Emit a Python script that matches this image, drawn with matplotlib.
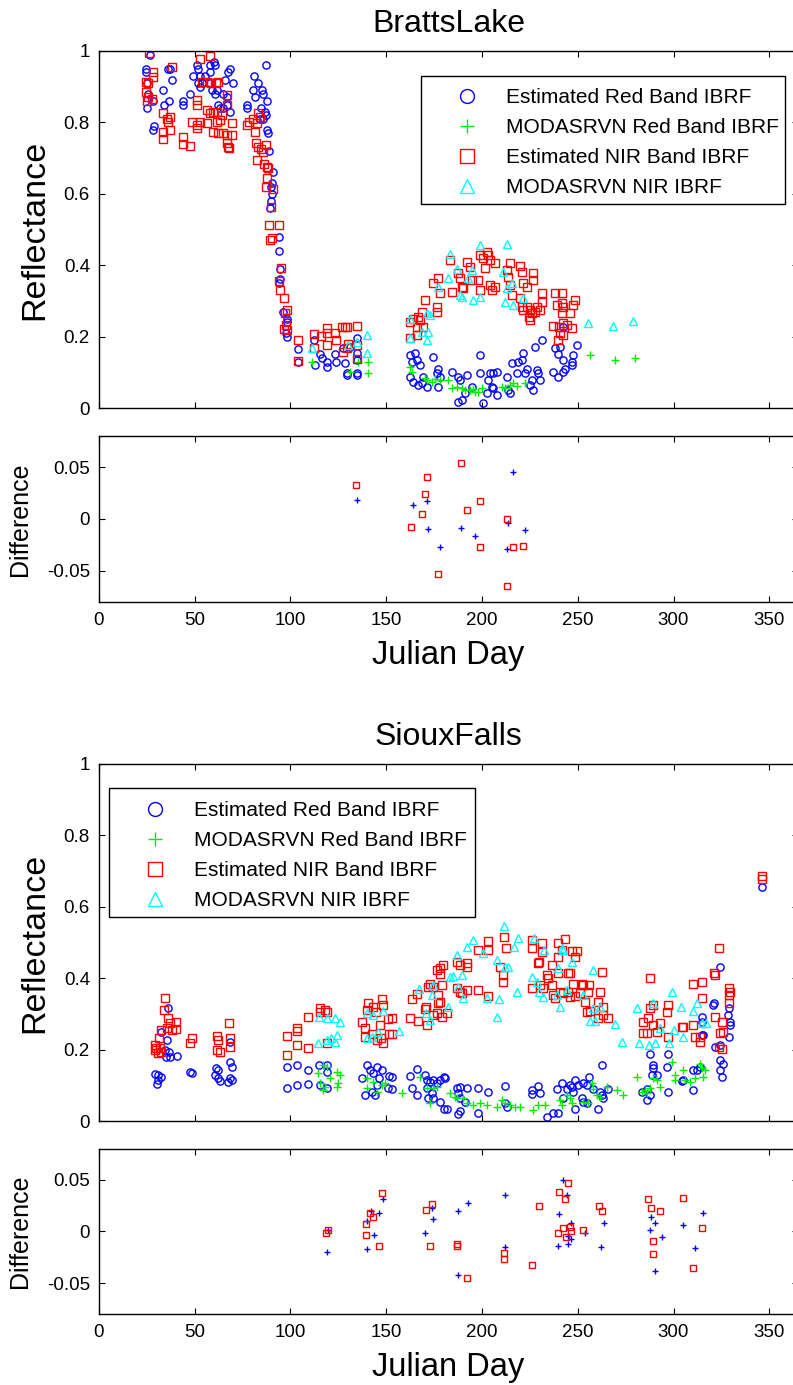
import matplotlib
matplotlib.use('Agg')
import matplotlib.pyplot as plt
from matplotlib.patches import Rectangle
from matplotlib.lines import Line2D

plt.rcParams['font.family'] = ['Liberation Sans', 'DejaVu Sans']

# ---------------- data (day, value) ----------------
bl_est_red = [
    (24.5, 0.95), (24.5, 0.94), (25.2, 0.91), (25.8, 0.88), (25.2, 0.84), (26.6, 0.99), (28.4, 0.86), (28.4, 0.78), (28.7, 0.79),
    (36.2, 0.95), (37.1, 0.95), (37.9, 0.92), (33.6, 0.89), (34.0, 0.85), (36.7, 0.86), (43.7, 0.86), (43.7, 0.85), (47.5, 0.88),
    (48.9, 0.93), (51.0, 0.96), (51.9, 0.95), (52.7, 0.93), (51.9, 0.91), (53.6, 0.91), (52.7, 0.90), (55.4, 0.93), (58.0, 0.96),
    (60.1, 0.97), (60.6, 0.96), (58.0, 0.94), (58.0, 0.91), (58.8, 0.89), (60.6, 0.88), (61.4, 0.89), (62.3, 0.85), (63.2, 0.84),
    (64.9, 0.88), (65.8, 0.92), (67.5, 0.94), (68.4, 0.95), (69.8, 0.91), (68.4, 0.83), (67.0, 0.85), (66.7, 0.87), (64.9, 0.84),
    (77.1, 0.85), (77.5, 0.84), (80.6, 0.89), (81.5, 0.87), (80.9, 0.93), (83.2, 0.91), (84.9, 0.89), (85.8, 0.88), (87.2, 0.96),
    (87.6, 0.86), (84.4, 0.84), (86.7, 0.83), (87.2, 0.82), (84.1, 0.81), (85.8, 0.81), (87.6, 0.78), (88.4, 0.77), (89.0, 0.72),
    (90.7, 0.66), (90.2, 0.63), (89.6, 0.62), (90.2, 0.60), (89.6, 0.58), (89.3, 0.56), (94.2, 0.48), (94.2, 0.44), (94.5, 0.39),
    (94.5, 0.36), (94.2, 0.35), (95.9, 0.27), (98.0, 0.25), (98.3, 0.24), (97.7, 0.21), (98.3, 0.20), (104.0, 0.165), (104.0, 0.13),
    (112.3, 0.19), (112.8, 0.12), (115.4, 0.15), (116.3, 0.14), (118.9, 0.13), (119.2, 0.116), (123.2, 0.15), (123.7, 0.13),
    (127.6, 0.167), (128.5, 0.125), (129.3, 0.097), (129.3, 0.092), (131.1, 0.17), (134.6, 0.195), (134.6, 0.153), (134.6, 0.135),
    (134.6, 0.097), (134.9, 0.092),
    (162.4, 0.148), (165.0, 0.153), (163.3, 0.13), (166.0, 0.135), (167.7, 0.12), (162.4, 0.088), (164.2, 0.074), (166.8, 0.064),
    (169.4, 0.088), (168.5, 0.07), (171.1, 0.06), (174.6, 0.144), (177.2, 0.11), (176.4, 0.097), (178.1, 0.088), (177.2, 0.06),
    (184.2, 0.10), (187.7, 0.088), (188.6, 0.078), (192.0, 0.092), (187.7, 0.018), (189.4, 0.023), (191.2, 0.041), (194.6, 0.06),
    (199.0, 0.148), (199.0, 0.097), (200.7, 0.013), (202.5, 0.041), (203.3, 0.078), (204.2, 0.097), (205.9, 0.097), (207.7, 0.10),
    (205.0, 0.06), (207.7, 0.037), (205.9, 0.055), (212.9, 0.088), (213.8, 0.05), (214.7, 0.041), (215.5, 0.125), (218.1, 0.097),
    (219.0, 0.13), (220.8, 0.135), (221.6, 0.153), (222.5, 0.097), (223.4, 0.11), (225.1, 0.064), (226.0, 0.078), (227.7, 0.17),
    (228.6, 0.106), (229.5, 0.097), (226.8, 0.05), (230.3, 0.078), (231.2, 0.19), (238.2, 0.167), (240.8, 0.172), (239.9, 0.15),
    (242.5, 0.135), (237.3, 0.10), (239.9, 0.088), (242.5, 0.10), (243.4, 0.11), (246.9, 0.13), (247.7, 0.148), (249.5, 0.176),
    (242.5, 0.228), (246.9, 0.12),
]
bl_mod_red = [
    (111.0, 0.13), (131.1, 0.10), (135.5, 0.13), (140.7, 0.13), (140.7, 0.097),
    (162.4, 0.116), (163.3, 0.10), (171.1, 0.078), (173.8, 0.074), (178.1, 0.078), (182.5, 0.078), (184.2, 0.055), (189.4, 0.055),
    (193.8, 0.05), (196.4, 0.046), (199.9, 0.055), (212.1, 0.055), (216.4, 0.07), (222.5, 0.07), (256.4, 0.148), (269.5, 0.135),
    (279.9, 0.139), (170.3, 0.085), (175.5, 0.08), (186.8, 0.06), (191.2, 0.05), (195.5, 0.052), (198.1, 0.045), (210.3, 0.06),
    (214.7, 0.065), (218.1, 0.062),
]
bl_est_nir = [
    (26.3, 0.993), (28.4, 0.942), (28.4, 0.928), (24.5, 0.914), (25.8, 0.91), (24.5, 0.886), (25.8, 0.872), (27.5, 0.865), (25.2, 0.86),
    (37.9, 0.954), (33.4, 0.827), (35.7, 0.81), (37.1, 0.816), (36.2, 0.80), (33.6, 0.774), (33.6, 0.753), (37.1, 0.779),
    (43.7, 0.76), (43.7, 0.74), (47.5, 0.734), (48.4, 0.802), (51.0, 0.793), (52.7, 0.802), (51.0, 0.783), (52.7, 0.977),
    (58.0, 0.986), (51.0, 0.863), (51.0, 0.849), (53.6, 0.914), (56.2, 0.914), (58.3, 0.91), (61.2, 0.909), (62.3, 0.914),
    (56.2, 0.835), (58.0, 0.826), (59.7, 0.83), (61.4, 0.83), (64.0, 0.82), (63.2, 0.807), (61.4, 0.802), (56.2, 0.797),
    (59.7, 0.774), (62.3, 0.77), (64.9, 0.77), (66.7, 0.765), (69.3, 0.765), (69.3, 0.797), (66.7, 0.742), (67.5, 0.732),
    (68.0, 0.728), (66.7, 0.849), (66.7, 0.877), (77.1, 0.793), (78.5, 0.80), (80.6, 0.81), (81.5, 0.774), (83.2, 0.826),
    (84.0, 0.816), (82.4, 0.797), (82.0, 0.742), (83.2, 0.732), (84.4, 0.725), (85.8, 0.718), (87.2, 0.737), (82.4, 0.695),
    (86.2, 0.683), (87.6, 0.676), (88.4, 0.671), (87.6, 0.643), (87.2, 0.62), (90.7, 0.613), (89.6, 0.564), (89.0, 0.513),
    (94.2, 0.513), (90.2, 0.475), (89.3, 0.47), (94.9, 0.391), (94.2, 0.357), (94.5, 0.33), (96.6, 0.307), (98.0, 0.274),
    (97.2, 0.267), (97.7, 0.232), (96.6, 0.22), (98.3, 0.218), (104.0, 0.19), (104.0, 0.132), (112.3, 0.207), (112.3, 0.167),
    (115.7, 0.202), (118.9, 0.223), (119.2, 0.209), (118.9, 0.176), (123.2, 0.209), (123.7, 0.19), (126.7, 0.226), (128.5, 0.228),
    (129.3, 0.228), (127.6, 0.158), (129.3, 0.167), (130.2, 0.18), (134.6, 0.23), (134.6, 0.176), (134.9, 0.136),
    (162.4, 0.242), (164.2, 0.25), (166.8, 0.256), (167.7, 0.246), (166.0, 0.228), (169.4, 0.228), (162.4, 0.195), (166.0, 0.204),
    (168.5, 0.27), (170.3, 0.303), (174.6, 0.35), (176.4, 0.284), (177.2, 0.363), (178.1, 0.321), (176.4, 0.27), (183.3, 0.414),
    (184.2, 0.326), (187.7, 0.377), (188.6, 0.363), (189.4, 0.34), (190.3, 0.335), (192.4, 0.41), (193.8, 0.396), (194.6, 0.358),
    (198.1, 0.358), (199.0, 0.428), (199.0, 0.33), (200.7, 0.42), (201.6, 0.391), (202.5, 0.438), (203.3, 0.428), (204.2, 0.414),
    (204.2, 0.345), (205.0, 0.33), (206.8, 0.405), (206.8, 0.34), (214.7, 0.407), (212.9, 0.387), (213.8, 0.368), (214.7, 0.345),
    (215.5, 0.317), (219.9, 0.398), (220.8, 0.382), (221.6, 0.35), (223.4, 0.34), (226.8, 0.377), (226.8, 0.358), (219.9, 0.307),
    (220.8, 0.284), (221.6, 0.274), (223.4, 0.284), (225.1, 0.274), (224.3, 0.256), (226.0, 0.265), (227.7, 0.27), (228.6, 0.284),
    (230.3, 0.274), (231.2, 0.321), (231.2, 0.298), (225.1, 0.246), (238.2, 0.321), (241.8, 0.321), (239.0, 0.289), (241.8, 0.293),
    (242.5, 0.284), (241.8, 0.265), (246.0, 0.265), (247.7, 0.289), (248.6, 0.303), (237.3, 0.23), (240.0, 0.228), (242.5, 0.237),
    (244.2, 0.232), (246.9, 0.223), (240.8, 0.209), (239.9, 0.19), (242.5, 0.204),
]
bl_mod_nir = [
    (111.0, 0.167), (130.2, 0.176), (134.6, 0.186), (139.8, 0.204), (139.8, 0.153),
    (162.4, 0.195), (162.4, 0.25), (168.5, 0.214), (171.1, 0.19), (172.0, 0.214), (171.1, 0.265), (172.9, 0.26), (177.2, 0.34),
    (182.5, 0.363), (183.3, 0.43), (186.8, 0.39), (188.6, 0.317), (189.4, 0.312), (192.9, 0.363), (194.6, 0.386), (195.5, 0.303),
    (199.0, 0.457), (199.0, 0.312), (211.2, 0.382), (212.9, 0.335), (213.3, 0.46), (215.5, 0.35), (212.1, 0.298), (216.4, 0.288),
    (221.6, 0.307), (255.6, 0.239), (268.6, 0.23), (279.0, 0.244),
]
bl_diff_red = [
    (134.9, 0.018), (163.8, 0.0135), (171.1, 0.0174), (172.0, -0.010), (178.1, -0.027), (188.9, -0.0084), (196.3, -0.0164),
    (213.8, -0.0045), (213.2, -0.0293), (216.4, 0.0448), (222.5, -0.011),
]
bl_diff_nir = [
    (134.2, 0.0329), (162.8, -0.0077), (171.1, 0.0406), (170.2, 0.0239), (168.5, 0.0051), (177.2, -0.0529), (188.9, 0.0535),
    (192.3, 0.0084), (199.0, 0.0174), (199.0, -0.0277), (213.2, 0.0003), (213.2, -0.0651), (216.0, -0.0277), (221.6, -0.0261),
]

sf_est_red = [
    (29.2, 0.131), (30.9, 0.129), (32.2, 0.124), (30.1, 0.105), (30.9, 0.115), (36.2, 0.316), (32.2, 0.25), (35.7, 0.227),
    (34.5, 0.199), (36.7, 0.194), (35.0, 0.18), (37.1, 0.18), (40.6, 0.182), (47.5, 0.136), (48.4, 0.134), (61.1, 0.148),
    (62.3, 0.143), (60.6, 0.129), (62.3, 0.12), (63.2, 0.112), (68.4, 0.166), (69.3, 0.152), (68.4, 0.121), (69.3, 0.115),
    (67.5, 0.11), (68.4, 0.222), (98.3, 0.152), (98.3, 0.093), (103.2, 0.157), (103.2, 0.101), (109.3, 0.143), (109.3, 0.103),
    (115.0, 0.157), (119.2, 0.157), (119.2, 0.138), (115.4, 0.101), (119.2, 0.092), (137.2, 0.121), (139.8, 0.157), (141.5, 0.143),
    (143.3, 0.134), (145.0, 0.101), (146.4, 0.121), (145.4, 0.152), (147.6, 0.143), (138.9, 0.073), (142.4, 0.082), (144.1, 0.073),
    (151.1, 0.092), (151.6, 0.127),
    (152.9, 0.124), (152.9, 0.091), (162.4, 0.127), (165.9, 0.146), (163.3, 0.093), (165.9, 0.073), (170.3, 0.129), (171.1, 0.115),
    (172.9, 0.11), (174.6, 0.115), (176.4, 0.106), (178.1, 0.115), (179.9, 0.124), (180.7, 0.12), (171.1, 0.092), (173.8, 0.078),
    (172.0, 0.064), (174.6, 0.064), (178.1, 0.054), (179.9, 0.035), (181.6, 0.035), (186.8, 0.092), (188.6, 0.096), (192.0, 0.093),
    (187.7, 0.078), (188.6, 0.064), (187.7, 0.019), (188.6, 0.028), (191.2, 0.054), (198.1, 0.093), (203.3, 0.08), (198.1, 0.022),
    (212.0, 0.099), (212.0, 0.05), (212.9, 0.04), (226.0, 0.087), (226.0, 0.075), (229.5, 0.099), (230.3, 0.078), (233.8, 0.012),
    (237.3, 0.022), (239.0, 0.091), (239.9, 0.022), (241.6, 0.106), (242.5, 0.064), (244.2, 0.091), (246.0, 0.101), (246.9, 0.096),
    (247.7, 0.082), (248.6, 0.035), (248.6, 0.115), (250.3, 0.101), (252.1, 0.064), (253.0, 0.106), (254.7, 0.101), (256.1, 0.124),
    (253.0, 0.054), (254.7, 0.05), (258.2, 0.091), (261.7, 0.082), (260.8, 0.035), (262.5, 0.073), (263.4, 0.064), (266.0, 0.091),
    (262.5, 0.157), (286.0, 0.059), (287.8, 0.073), (283.4, 0.082), (286.0, 0.091), (289.5, 0.148), (289.5, 0.157), (288.6, 0.129),
    (291.3, 0.129), (287.8, 0.189), (297.3, 0.189), (296.5, 0.152), (297.3, 0.082), (304.3, 0.112), (305.2, 0.115), (310.4, 0.087),
    (310.4, 0.143), (312.1, 0.143), (313.9, 0.152), (314.8, 0.241), (314.8, 0.292), (314.8, 0.278), (315.6, 0.241), (321.2, 0.33),
    (320.8, 0.325), (321.7, 0.208), (324.3, 0.432), (324.3, 0.213), (324.3, 0.143), (325.2, 0.124), (324.3, 0.171), (325.7, 0.161),
    (329.2, 0.316), (328.7, 0.297), (329.5, 0.278), (329.5, 0.269), (329.2, 0.236), (346.1, 0.656),
]
sf_mod_red = [
    (114.5, 0.134), (117.1, 0.157), (119.2, 0.152), (120.6, 0.12), (124.1, 0.138), (125.8, 0.129), (115.4, 0.106), (118.1, 0.096),
    (124.1, 0.096), (124.9, 0.106), (117.1, 0.087), (139.8, 0.12), (143.3, 0.11), (139.8, 0.092), (145.0, 0.082), (147.6, 0.101),
    (149.4, 0.106),
    (167.7, 0.122), (158.1, 0.078), (171.1, 0.092), (174.6, 0.093), (176.4, 0.096), (172.9, 0.05), (183.3, 0.078), (185.9, 0.068),
    (186.8, 0.064), (190.3, 0.064), (192.0, 0.05), (195.5, 0.045), (199.0, 0.05), (202.5, 0.045), (207.7, 0.04), (210.3, 0.059),
    (212.0, 0.05), (214.7, 0.045), (217.3, 0.04), (219.9, 0.04), (226.8, 0.031), (229.5, 0.045), (232.9, 0.045), (240.8, 0.059),
    (241.6, 0.045), (244.2, 0.073), (246.0, 0.064), (246.9, 0.05), (253.0, 0.054), (255.6, 0.05), (257.3, 0.106), (258.2, 0.091),
    (259.9, 0.073), (261.7, 0.068), (265.1, 0.096), (270.4, 0.087), (273.8, 0.073), (280.8, 0.124), (285.2, 0.087), (286.0, 0.078),
    (289.5, 0.12), (291.3, 0.115), (293.0, 0.096), (299.1, 0.166), (300.8, 0.129), (300.8, 0.115), (305.2, 0.143), (306.0, 0.115),
    (308.7, 0.11), (311.3, 0.12), (313.9, 0.161), (314.8, 0.148), (315.6, 0.124), (316.5, 0.143), (287.8, 0.092), (283.4, 0.082),
]
sf_est_nir = [
    (34.5, 0.344), (34.0, 0.311), (36.2, 0.288), (37.1, 0.274), (40.3, 0.276), (40.3, 0.258), (35.7, 0.26), (37.9, 0.255),
    (32.2, 0.255), (29.2, 0.213), (29.8, 0.204), (29.2, 0.199), (31.9, 0.204), (31.0, 0.19), (32.2, 0.194), (31.5, 0.232),
    (48.4, 0.232), (47.5, 0.218), (61.4, 0.239), (62.3, 0.227), (61.4, 0.199), (63.2, 0.194), (68.1, 0.274), (68.4, 0.232),
    (68.4, 0.208), (98.0, 0.239), (98.3, 0.185), (103.2, 0.261), (103.2, 0.252), (103.2, 0.213), (109.3, 0.292), (109.3, 0.204),
    (115.4, 0.316), (115.4, 0.304), (118.1, 0.311), (119.2, 0.306), (118.9, 0.218), (137.6, 0.276), (138.9, 0.26), (140.7, 0.33),
    (139.8, 0.311), (143.3, 0.32), (144.6, 0.306), (147.6, 0.341), (148.1, 0.325), (146.8, 0.269), (138.9, 0.236), (142.8, 0.243),
    (145.0, 0.227), (147.2, 0.232), (148.1, 0.218), (151.1, 0.287), (151.6, 0.243),
    (152.9, 0.288), (152.9, 0.243), (162.4, 0.288), (163.3, 0.342), (166.3, 0.355), (166.8, 0.28), (170.8, 0.32), (170.3, 0.314),
    (171.1, 0.269), (172.0, 0.376), (172.9, 0.383), (174.6, 0.376), (176.4, 0.423), (178.1, 0.413), (179.5, 0.437), (178.1, 0.428),
    (177.2, 0.33), (178.1, 0.334), (176.4, 0.302), (179.0, 0.292), (181.6, 0.302), (179.0, 0.381), (177.2, 0.353), (174.6, 0.297),
    (186.8, 0.446), (188.6, 0.437), (192.0, 0.442), (192.0, 0.432), (186.8, 0.372), (188.6, 0.36), (189.4, 0.358), (192.0, 0.367),
    (198.1, 0.479), (203.3, 0.504), (203.3, 0.479), (198.1, 0.367), (203.3, 0.351), (211.5, 0.516), (212.6, 0.484), (211.2, 0.409),
    (211.2, 0.39), (209.4, 0.432), (226.0, 0.507), (226.0, 0.485), (231.2, 0.498), (231.2, 0.474), (229.5, 0.442), (230.0, 0.446),
    (226.0, 0.373), (230.3, 0.381), (232.1, 0.372), (233.8, 0.409), (234.7, 0.401), (236.4, 0.437), (236.4, 0.381), (237.3, 0.353),
    (238.2, 0.344), (239.9, 0.498), (239.9, 0.46), (243.4, 0.509), (241.6, 0.479), (246.9, 0.476), (248.6, 0.46), (249.5, 0.476),
    (245.1, 0.414), (246.0, 0.414), (239.9, 0.414), (240.8, 0.362), (242.5, 0.358), (245.1, 0.362), (246.0, 0.348), (248.6, 0.351),
    (247.7, 0.385), (252.1, 0.385), (253.0, 0.381), (251.2, 0.358), (253.8, 0.332), (255.6, 0.362), (256.1, 0.381), (256.4, 0.308),
    (254.7, 0.306), (261.7, 0.362), (262.5, 0.418), (260.8, 0.334), (263.4, 0.32), (260.8, 0.288), (263.4, 0.297), (266.0, 0.288),
    (287.8, 0.40), (284.3, 0.278), (283.9, 0.246), (286.0, 0.246), (286.9, 0.288), (287.8, 0.316), (289.5, 0.325), (289.5, 0.269),
    (291.3, 0.25), (293.0, 0.274), (296.5, 0.306), (297.3, 0.325), (297.3, 0.236), (304.3, 0.264), (305.2, 0.264), (310.4, 0.385),
    (314.8, 0.39), (314.8, 0.344), (310.4, 0.269), (311.3, 0.236), (313.9, 0.222), (313.9, 0.236), (321.2, 0.414), (321.7, 0.409),
    (324.0, 0.485), (321.7, 0.292), (325.2, 0.278), (324.3, 0.246), (325.7, 0.25), (324.0, 0.208), (325.2, 0.203), (329.2, 0.372),
    (329.5, 0.362), (329.2, 0.353), (329.2, 0.33), (346.1, 0.687), (346.1, 0.678),
]
sf_mod_nir = [
    (114.5, 0.218), (118.9, 0.227), (121.4, 0.232), (124.1, 0.241), (123.2, 0.222), (115.0, 0.29), (119.2, 0.288), (123.2, 0.288),
    (125.8, 0.278), (139.8, 0.302), (143.3, 0.297), (148.1, 0.308), (139.8, 0.232), (142.4, 0.236), (145.9, 0.25),
    (156.9, 0.252), (167.3, 0.37), (170.8, 0.302), (172.9, 0.283), (173.8, 0.353), (174.6, 0.381), (182.5, 0.32), (183.3, 0.402),
    (185.1, 0.407), (186.8, 0.465), (187.7, 0.376), (189.4, 0.409), (190.3, 0.344), (192.4, 0.488), (195.5, 0.507), (200.7, 0.47),
    (202.5, 0.344), (207.7, 0.451), (207.7, 0.292), (209.1, 0.342), (211.7, 0.546), (212.0, 0.432), (213.8, 0.432), (216.8, 0.488),
    (218.5, 0.362), (219.0, 0.512), (226.0, 0.404), (227.2, 0.512), (228.6, 0.39), (230.0, 0.362), (231.7, 0.348), (232.4, 0.479),
    (239.0, 0.353), (239.9, 0.428), (240.8, 0.32), (241.6, 0.484), (242.5, 0.479), (244.2, 0.367), (246.9, 0.446), (252.6, 0.353),
    (256.4, 0.28), (257.8, 0.423), (258.2, 0.316), (259.0, 0.28), (261.7, 0.32), (269.5, 0.271), (273.0, 0.222), (280.8, 0.316),
    (282.2, 0.218), (287.4, 0.213), (289.5, 0.33), (290.4, 0.218), (293.0, 0.26), (297.9, 0.218), (299.1, 0.36), (300.0, 0.255),
    (303.8, 0.32), (304.8, 0.236), (310.4, 0.308), (312.1, 0.33), (314.8, 0.274), (317.0, 0.274),
]
sf_diff_red = [
    (119.7, 0.0014), (119.2, -0.0196), (139.8, 0.0103), (140.2, -0.017), (141.9, 0.02), (143.6, -0.0035), (146.4, 0.0178),
    (148.5, 0.0319), (170.2, -0.0016), (173.7, 0.0232), (174.6, 0.012), (187.6, 0.02), (192.9, 0.028), (187.6, -0.0422),
    (212.0, 0.0355), (212.0, -0.0155), (242.1, 0.05), (244.2, 0.0352), (240.4, 0.0168), (246.6, 0.0087), (244.9, -0.0042),
    (246.6, -0.0074), (239.9, -0.0138), (245.1, -0.0122), (253.6, -0.001), (263.7, 0.0087), (262.0, -0.0148), (288.1, 0.0142),
    (290.4, 0.0087), (287.6, 0.0014), (293.8, -0.0051), (290.4, -0.038), (305.2, 0.0062), (311.3, -0.0164), (315.6, 0.0178),
]
sf_diff_nir = [
    (118.5, -0.0016), (119.4, 0.0016), (139.3, 0.0077), (139.3, -0.0032), (141.5, 0.0178), (142.9, 0.0142), (146.2, -0.0138),
    (148.0, 0.0377), (170.8, 0.021), (173.7, 0.0265), (172.8, -0.0138), (187.1, -0.0122), (187.1, -0.0138), (192.0, -0.045),
    (211.5, -0.0209), (211.5, -0.0267), (225.9, -0.0325), (229.9, 0.0249), (240.0, 0.0387), (243.3, 0.0313), (245.1, 0.0468),
    (242.3, 0.0029), (239.5, -0.0016), (246.0, 0.0048), (246.3, 0.0004), (243.9, -0.0058), (252.6, 0.0016), (260.9, 0.0249),
    (262.7, 0.02), (286.8, 0.0313), (288.1, 0.0232), (293.0, 0.02), (289.4, -0.0097), (289.4, -0.0219), (304.8, 0.0329),
    (314.7, 0.0029), (310.3, -0.0358),
]

legend_labels = ['Estimated Red Band IBRF', 'MODASRVN Red Band IBRF',
                 'Estimated NIR Band IBRF', 'MODASRVN NIR IBRF']
refl_ticks = [0, 0.2, 0.4, 0.6, 0.8, 1.0]
refl_ticklabels = ['0', '0.2', '0.4', '0.6', '0.8', '1']
diff_ticks = [-0.05, 0, 0.05]
diff_ticklabels = ['-0.05', '0', '0.05']
day_ticks = [0, 50, 100, 150, 200, 250, 300, 350]

# ---------------- styles ----------------
MS = 5.2
MEW = 1.0
STYLES = [
    dict(marker='o', color='#0000ff'),
    dict(marker='+', color='#00ee00'),
    dict(marker='s', color='#ff0000'),
    dict(marker='^', color='#00ffff'),
]


def pts(ax, data, marker, color, ms=MS):
    xs = [p[0] for p in data]
    ys = [p[1] for p in data]
    ax.plot(xs, ys, ls='none', marker=marker, mfc='none', mec=color, ms=ms, mew=MEW)


def style(ax):
    ax.set_xlim(0, 365)
    ax.set_xticks(day_ticks)
    ax.tick_params(direction='in', top=True, right=True, length=4, width=0.8,
                   labelsize=13.5)
    ax.tick_params(axis='y', pad=6.5)
    ax.tick_params(axis='x', pad=7.5)
    for s in ax.spines.values():
        s.set_linewidth(1.0)


fig = plt.figure(figsize=(7.93, 13.85), dpi=100)
ax1 = fig.add_axes([0.1248, 0.7054, 0.8815, 0.2578])
ax2 = fig.add_axes([0.1248, 0.5656, 0.8815, 0.1196])
ax3 = fig.add_axes([0.1248, 0.1906, 0.8815, 0.2578])
ax4 = fig.add_axes([0.1248, 0.0513, 0.8815, 0.1191])


def refl_panel(ax, series, title, leg_anchor, box):
    for data, st in zip(series, STYLES):
        pts(ax, data, st['marker'], st['color'])
    style(ax)
    ax.set_ylim(0, 1)
    ax.set_yticks(refl_ticks)
    ax.set_yticklabels(refl_ticklabels)
    ax.set_xticklabels([])
    ax.set_title(title, fontsize=23, pad=14)
    ax.set_ylabel('Reflectance', fontsize=24.5)
    ax.yaxis.set_label_coords(-0.070, 0.5)
    handles = [Line2D([], [], ls='none', marker=st['marker'], mfc='none', mec=st['color'],
                      ms=10, mew=MEW) for st in STYLES]
    rect = Rectangle((box[0], box[1]), box[2] - box[0], box[3] - box[1], transform=ax.transAxes,
                     fc='white', ec='black', lw=1.0, zorder=4)
    ax.add_patch(rect)
    leg = ax.legend(handles, legend_labels, loc='upper left', bbox_to_anchor=leg_anchor,
                    frameon=False, fontsize=15, handlelength=1.0, handletextpad=1.35,
                    borderpad=0, borderaxespad=0, labelspacing=0.53)
    leg.set_zorder(5)


def diff_panel(ax, red, nir):
    pts(ax, red, '+', '#0000ff', ms=5.0)
    pts(ax, nir, 's', '#ff0000', ms=4.8)
    style(ax)
    ax.set_ylim(-0.08, 0.08)
    ax.set_yticks(diff_ticks)
    ax.set_yticklabels(diff_ticklabels)
    ax.set_xticklabels([str(t) for t in day_ticks])
    ax.set_xlabel('Julian Day', fontsize=23.5, labelpad=8)
    ax.set_ylabel('Difference', fontsize=18)
    ax.yaxis.set_label_coords(-0.096, 0.5)


refl_panel(ax1, [bl_est_red, bl_mod_red, bl_est_nir, bl_mod_nir], 'BrattsLake',
           (0.5117, 0.896), (0.4602, 0.5714, 0.9814, 0.9308))
diff_panel(ax2, bl_diff_red, bl_diff_nir)
refl_panel(ax3, [sf_est_red, sf_mod_red, sf_est_nir, sf_mod_nir], 'SiouxFalls',
           (0.0658, 0.8955), (0.0143, 0.5714, 0.5379, 0.9328))
diff_panel(ax4, sf_diff_red, sf_diff_nir)

fig.savefig('out.png', dpi=100)
